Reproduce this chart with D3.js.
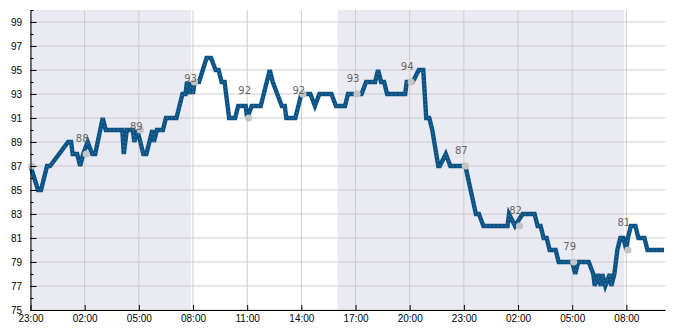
<!DOCTYPE html>
<html lang="en">
<head>
    <meta charset="UTF-8">
    <title>Value over time</title>
    <script src="https://d3js.org/d3.v7.min.js"></script>
    <style>
        body { margin: 0; background: #fff; }
        svg { display: block; font-family: "DejaVu Sans", sans-serif; }
        .grid line { stroke: #cccccc; stroke-width: 1; }
        .axis text { font-size: 10px; fill: #000; }
        .axis path, .axis line { stroke: #000; stroke-width: 1; }
        .pt-label { font-size: 10px; fill: #666; text-anchor: middle; }
    </style>
</head>
<body>
<svg id="chart" width="685" height="330"></svg>
<script>
    // series (day number + clock time)
    const lineTimes = [
        "1 23:00", "1 23:25", "1 23:35", "1 23:55",
        "2 00:05", "2 01:05", "2 01:15", "2 01:20", "2 01:35", "2 01:45", "2 01:55", "2 02:10",
        "2 02:25", "2 02:35", "2 03:00", "2 03:10", "2 04:05", "2 04:10", "2 04:20", "2 04:40",
        "2 04:45", "2 04:55", "2 05:05", "2 05:15", "2 05:25", "2 05:45", "2 05:50", "2 06:00",
        "2 06:20", "2 06:30", "2 07:05", "2 07:25", "2 07:35", "2 07:40", "2 07:50", "2 07:55",
        "2 08:00", "2 08:05", "2 08:20", "2 08:45", "2 09:00", "2 09:15", "2 09:25", "2 09:35",
        "2 09:45", "2 10:00", "2 10:20", "2 10:30", "2 10:55", "2 11:00", "2 11:15", "2 11:45",
        "2 12:15", "2 12:25", "2 12:40", "2 12:55", "2 13:05", "2 13:10", "2 13:40", "2 14:00",
        "2 14:30", "2 14:45", "2 15:00", "2 15:40", "2 15:55", "2 16:25", "2 16:35", "2 17:20",
        "2 17:35", "2 18:05", "2 18:15", "2 18:25", "2 18:35", "2 18:45", "2 19:45", "2 19:50",
        "2 20:10", "2 20:30", "2 20:45", "2 20:55", "2 21:05", "2 21:15", "2 21:35", "2 21:40",
        "2 22:00", "2 22:15", "2 23:05", "2 23:40", "2 23:50",
        "3 00:05", "3 01:25", "3 01:30", "3 01:50", "3 02:15", "3 02:55", "3 03:05", "3 03:15",
        "3 03:25", "3 03:35", "3 03:45", "3 04:05", "3 04:15", "3 05:00", "3 05:10", "3 05:20",
        "3 05:55", "3 06:10", "3 06:15", "3 06:25", "3 06:35", "3 06:40", "3 06:50", "3 07:05",
        "3 07:10", "3 07:20", "3 07:30", "3 07:40", "3 07:50", "3 08:00", "3 08:05", "3 08:15",
        "3 08:30", "3 08:40", "3 09:00", "3 09:10", "3 10:05"
    ];
    const lineValues = [
        87, 85, 85, 87,
        87, 89, 89, 88, 88, 87, 88, 89,
        88, 88, 91, 90, 90, 88, 90, 90,
        89, 90, 89, 88, 88, 90, 89, 90,
        90, 91, 91, 93, 93, 94, 93, 94,
        93, 94, 94, 96, 96, 95, 95, 94,
        94, 91, 91, 92, 92, 91, 92, 92,
        95, 94, 93, 92, 92, 91, 91, 93,
        93, 92, 93, 93, 92, 92, 93, 93,
        94, 94, 95, 94, 94, 93, 93, 94,
        94, 95, 95, 91, 91, 90, 87, 87,
        88, 87, 87, 83, 83,
        82, 82, 83, 82, 83, 83, 82, 82,
        81, 81, 80, 80, 79, 79, 78, 79,
        79, 78, 77, 78, 77, 78, 77, 78,
        77, 78, 80, 81, 81, 80, 81, 82,
        82, 81, 81, 80, 80
    ];

    // grey markers every three hours and their printed labels
    const dotTimes = ["1 23:05", "2 02:05", "2 05:05", "2 08:05", "2 11:05", "2 14:05",
                      "2 17:05", "2 20:05", "2 23:05", "3 02:05", "3 05:05", "3 08:05"];
    const dotValues = [87, 88, 90, 94, 91, 93, 93, 94, 87, 82, 79, 80];
    const dotLabels = ["", "88", "89", "93", "92", "92", "93", "94", "87", "82", "79", "81"];

    // shaded periods
    const shadeStarts = ["1 23:00", "2 16:00"];
    const shadeEnds = ["2 07:53", "3 07:53"];

    const tickTimes = ["1 23:00", "2 02:00", "2 05:00", "2 08:00", "2 11:00", "2 14:00",
                       "2 17:00", "2 20:00", "2 23:00", "3 02:00", "3 05:00", "3 08:00"];
    const yMajor = [75, 77, 79, 81, 83, 85, 87, 89, 91, 93, 95, 97, 99];
    const yMinor = [76, 78, 80, 82, 84, 86, 88, 90, 92, 94, 96, 98, 100];
    const xStart = "1 23:00", xEnd = "3 10:10";

    const parse = d3.timeParse("%d %H:%M");

    const margin = { top: 10, right: 19.5, bottom: 20, left: 30.5 },
          width = 685 - margin.left - margin.right,
          height = 330 - margin.top - margin.bottom;

    const svg = d3.select("#chart")
        .append("g")
        .attr("transform", `translate(${margin.left},${margin.top})`);

    const x = d3.scaleTime().domain([parse(xStart), parse(xEnd)]).range([0, width]);
    const y = d3.scaleLinear().domain([75, 100]).range([height, 0]);

    const series = lineTimes.map((t, i) => ({ t: parse(t), v: lineValues[i] }));
    const dots = dotTimes.map((t, i) => ({ t: parse(t), v: dotValues[i], label: dotLabels[i] }));
    const ticks = tickTimes.map(parse);

    // shading
    svg.selectAll(".shade")
        .data(shadeStarts.map((s, i) => [parse(s), parse(shadeEnds[i])]))
        .enter().append("rect")
        .attr("class", "shade")
        .attr("x", d => x(d[0]))
        .attr("width", d => x(d[1]) - x(d[0]))
        .attr("y", 0)
        .attr("height", height)
        .attr("fill", "#eaeaf2");

    // grid
    const grid = svg.append("g").attr("class", "grid");
    grid.selectAll(".gx").data(ticks).enter().append("line")
        .attr("x1", d => x(d)).attr("x2", d => x(d))
        .attr("y1", 0).attr("y2", height);
    grid.selectAll(".gy").data(yMajor).enter().append("line")
        .attr("x1", 0).attr("x2", width)
        .attr("y1", d => y(d)).attr("y2", d => y(d));

    // main line
    const line = d3.line().x(d => x(d.t)).y(d => y(d.v));
    svg.append("path")
        .datum(series)
        .attr("d", line)
        .attr("fill", "none")
        .attr("stroke", "#0b5385")
        .attr("stroke-width", 4.4)
        .attr("stroke-linejoin", "miter");
    svg.append("path")
        .datum(series)
        .attr("d", line)
        .attr("fill", "none")
        .attr("stroke", "#ffffff")
        .attr("stroke-width", 0.8)
        .attr("stroke-dasharray", "0.8 3.2")
        .attr("opacity", 0.45);

    // markers + labels
    svg.selectAll(".dot").data(dots).enter().append("circle")
        .attr("class", "dot")
        .attr("cx", d => x(d.t))
        .attr("cy", d => y(d.v))
        .attr("r", 3.6)
        .attr("fill", "#c4c4c4");
    svg.selectAll(".pt-label").data(dots.filter(d => d.label !== "")).enter().append("text")
        .attr("class", "pt-label")
        .attr("x", d => x(d.t) - 4)
        .attr("y", d => y(+d.label) - 12)
        .text(d => d.label);

    // axes
    svg.append("g")
        .attr("class", "axis")
        .call(d3.axisLeft(y).tickValues(yMajor).tickSizeInner(-6).tickSizeOuter(0).tickPadding(8.5));
    svg.append("g")
        .attr("class", "axis")
        .call(d3.axisLeft(y).tickValues(yMinor).tickSizeInner(-3).tickSizeOuter(0).tickFormat(""))
        .call(g => g.select(".domain").remove());
    svg.append("g")
        .attr("class", "axis")
        .attr("transform", `translate(0,${height})`)
        .call(d3.axisBottom(x).tickValues(ticks).tickFormat(d3.timeFormat("%H:%M"))
            .tickSizeInner(-5).tickSizeOuter(0).tickPadding(4.5))
        .call(g => g.select(".domain").attr("d", `M0,0.5H${width}`));
</script>
</body>
</html>
